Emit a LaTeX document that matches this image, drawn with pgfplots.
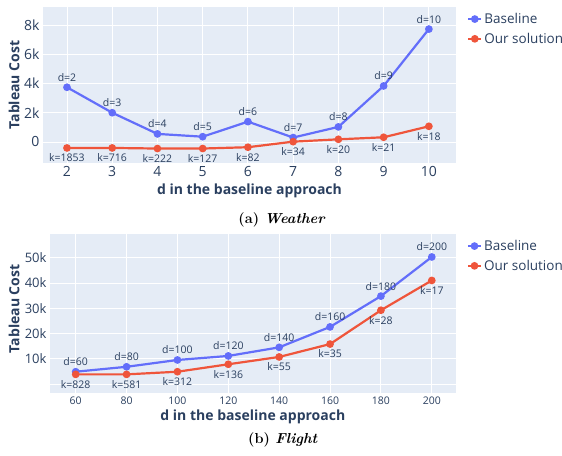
\documentclass[border=0pt]{standalone}
\usepackage{fontspec}
\setsansfont{Open Sans}
\usepackage{pgfplots}
\pgfplotsset{compat=1.18}
\definecolor{bg}{HTML}{E5ECF6}
\definecolor{txt}{HTML}{2A3F5F}
\definecolor{blu}{HTML}{636EFA}
\definecolor{ored}{HTML}{EF553B}
\newcommand{\fs}[1]{\fontsize{#1}{#1}\selectfont}
\pgfplotsset{
  plotly/.style={
    scale only axis, clip=false,
    scaled ticks=false,
    axis background/.style={fill=bg},
    axis line style={draw=none},
    grid=major, major grid style={white, line width=0.9pt},
    tick style={draw=none},
    ticklabel style={text=txt},
    /pgf/number format/assume math mode=true,
    label style={font=\sffamily\bfseries\fs{14}, text=txt},
    legend cell align=left,
    legend style={draw=none, fill=none, inner sep=0pt, font=\sffamily\fs{13.5}, text=txt,
      row sep=4pt, at={(1,1)}, anchor=north west, xshift=11pt, yshift=-4pt},
    legend image code/.code={\draw[mark repeat=2,mark phase=2,#1] plot coordinates {(0pt,0pt) (6.5pt,0pt) (13pt,0pt)};},
  },
  base/.style={blu, line width=2.2pt, mark=*, mark size=2.7pt, nodes near coords, point meta=explicit symbolic,
    every node near coord/.style={font=\sffamily\fs{10.5}, text=txt, anchor=south, yshift=1.5pt}},
  ours/.style={ored, line width=2.2pt, mark=*, mark size=2.7pt, nodes near coords, point meta=explicit symbolic,
    every node near coord/.style={font=\sffamily\fs{10.5}, text=txt, anchor=north, yshift=-1.5pt}},
}
\pgfplotstableread{
x y lab
2 3740 d=2
3 2000 d=3
4 550 d=4
5 360 d=5
6 1390 d=6
7 300 d=7
8 1030 d=8
9 3830 d=9
10 7720 d=10
}\wbase
\pgfplotstableread{
x y lab
2 -410 k=1853
3 -410 k=716
4 -450 k=222
5 -450 k=127
6 -360 k=82
7 20 k=34
8 180 k=20
9 320 k=21
10 1070 k=18
}\wours
\pgfplotstableread{
x y lab
60 4850 d=60
80 6800 d=80
100 9500 d=100
120 11100 d=120
140 14500 d=140
160 22600 d=160
180 34800 d=180
200 50300 d=200
}\fbase
\pgfplotstableread{
x y lab
60 3800 k=828
80 3800 k=581
100 4850 k=312
120 7800 k=136
140 10700 k=55
160 15800 k=35
180 29200 k=28
200 41000 k=17
}\fours
\begin{document}
\begin{tikzpicture}
\path[use as bounding box] (0pt,0pt) rectangle (562pt,-455pt);
\begin{axis}[plotly,
  at={(43pt,-7pt)}, anchor=north west, width=413pt, height=156pt,
  xmin=1.47, xmax=10.6, ymin=-1440, ymax=9230,
  xtick={2,...,10}, ytick={0,2000,4000,6000,8000}, yticklabels={0,2k,4k,6k,8k},
  xticklabel style={font=\sffamily\fs{14}}, yticklabel style={font=\sffamily\fs{14}},
  xlabel={d in the baseline approach}, ylabel={Tableau Cost},
  x label style={at={(axis description cs:0.5,0)}, anchor=center, yshift=-27.7pt},
  y label style={at={(axis description cs:-0.0702,0.5)}, anchor=center},
]
\addplot[base] table[meta=lab] {\wbase};
\addlegendentry{Baseline}
\addplot[ours] table[meta=lab] {\wours};
\addlegendentry{Our solution}
\end{axis}
\node[font=\bfseries\fs{14.5}] at (282pt,-220pt) {(a)~\textit{Weather}};
\begin{axis}[plotly,
  at={(50pt,-234pt)}, anchor=north west, width=405.7pt, height=159.3pt,
  xmin=49.9, xmax=209.4, ymin=-3700, ymax=59400,
  xtick={60,80,...,200}, ytick={0,10000,20000,30000,40000,50000}, yticklabels={,10k,20k,30k,40k,50k},
  xticklabel style={font=\sffamily\fs{10.5}}, yticklabel style={font=\sffamily\fs{13}},
  xlabel={d in the baseline approach}, ylabel={Tableau Cost},
  x label style={at={(axis description cs:0.5,0)}, anchor=center, yshift=-23.7pt},
  y label style={at={(axis description cs:-0.0887,0.53)}, anchor=center},
]
\addplot[base] table[meta=lab] {\fbase};
\addlegendentry{Baseline}
\addplot[ours] table[meta=lab] {\fours};
\addlegendentry{Our solution}
\end{axis}
\node[font=\bfseries\fs{14.5}] at (283pt,-440pt) {(b)~\textit{Flight}};
\end{tikzpicture}
\end{document}
